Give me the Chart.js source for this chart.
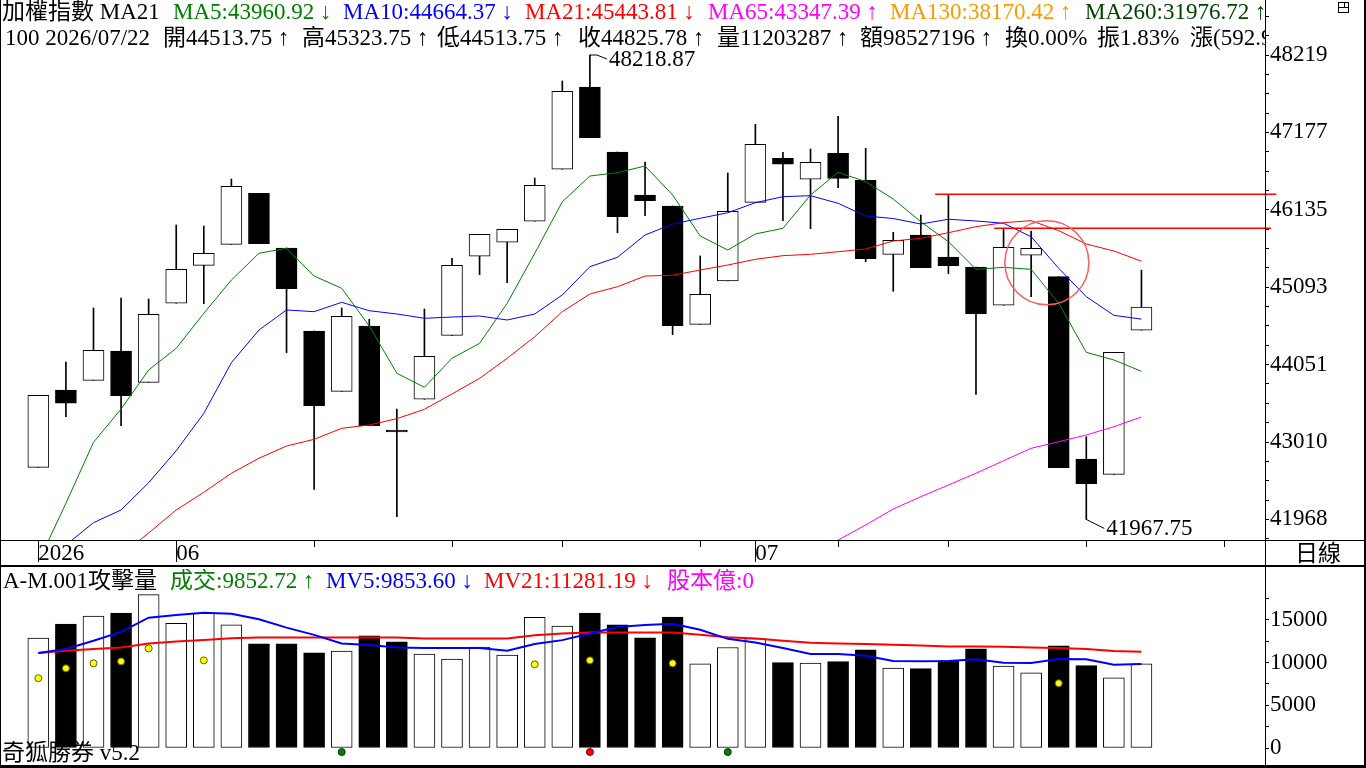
<!DOCTYPE html>
<html lang="zh-Hant">
<head>
<meta charset="utf-8">
<title>加權指數 日線</title>
<script src="https://cdn.jsdelivr.net/npm/chart.js@4.4.1/dist/chart.umd.min.js"></script>
<style>
  html, body { margin: 0; padding: 0; background: #fff; }
  #board { position: relative; width: 1366px; height: 768px; overflow: hidden;
           font-family: "Liberation Serif", "Noto Sans CJK TC", serif; font-size: 23px; line-height: 23px; color: #000; }
  #board canvas { position: absolute; left: 0; }
  #priceChart { top: 0; }
  #volChart { top: 565px; }
  .clip { position: absolute; left: 0; width: 1265px; overflow: hidden; z-index: 2; }
  .seg { position: absolute; top: 0; white-space: pre; }
  .rule { position: absolute; background: #000; z-index: 3; }
</style>
</head>
<body>
<div id="board">
  <canvas id="priceChart" width="1366" height="565"></canvas>
  <canvas id="volChart" width="1366" height="200"></canvas>

  <div class="clip" style="top:0;height:24px">
    <span class="seg" style="left:2px">加權指數 MA21</span>
    <span class="seg" style="left:173px;color:#008000">MA5:43960.92 ↓</span>
    <span class="seg" style="left:343px;color:#0000ff">MA10:44664.37 ↓</span>
    <span class="seg" style="left:525px;color:#ff0000">MA21:45443.81 ↓</span>
    <span class="seg" style="left:708px;color:#ff00ff">MA65:43347.39 ↑</span>
    <span class="seg" style="left:890px;color:#ff9900">MA130:38170.42 ↑</span>
    <span class="seg" style="left:1085px;color:#004400">MA260:31976.72 ↑</span>
  </div>
  <div class="clip" style="top:26px;height:24px">
    <span class="seg" style="left:5px">100 2026/07/22</span>
    <span class="seg" style="left:163px">開44513.75 ↑</span>
    <span class="seg" style="left:302px">高45323.75 ↑</span>
    <span class="seg" style="left:437px">低44513.75 ↑</span>
    <span class="seg" style="left:578px">收44825.78 ↑</span>
    <span class="seg" style="left:717px">量11203287 ↑</span>
    <span class="seg" style="left:860px">額98527196 ↑</span>
    <span class="seg" style="left:1005px">換0.00%</span>
    <span class="seg" style="left:1097px">振1.83%</span>
    <span class="seg" style="left:1190px">漲(592.93</span>
  </div>
  <div class="clip" style="top:569px;height:24px">
    <span class="seg" style="left:3px">A-M.001攻擊量</span>
    <span class="seg" style="left:170px;color:#008000">成交:9852.72 ↑</span>
    <span class="seg" style="left:326px;color:#0000ff">MV5:9853.60 ↓</span>
    <span class="seg" style="left:484px;color:#ff0000">MV21:11281.19 ↓</span>
    <span class="seg" style="left:667px;color:#ff00ff">股本億:0</span>
  </div>
  <div class="clip" style="top:741px;height:24px">
    <span class="seg" style="left:2px">奇狐勝券 v5.2</span>
  </div>
  <span class="seg" style="left:1295px;top:542px">日線</span>

  <div style="position:absolute;left:1338px;top:2px;width:9px;height:9px;border:1px solid #000">
    <div style="position:absolute;left:0;top:4px;width:9px;height:1px;background:#000"></div>
    <div style="position:absolute;left:5px;top:0;width:1px;height:4px;background:#000"></div>
  </div>

  <div class="rule" style="left:0;top:0;width:1px;height:768px"></div>
  <div class="rule" style="left:1364px;top:0;width:2px;height:768px"></div>
  <div class="rule" style="left:1265px;top:0;width:1px;height:768px"></div>
  <div class="rule" style="left:0;top:540px;width:1366px;height:1px"></div>
  <div class="rule" style="left:0;top:565px;width:1366px;height:2px"></div>
  <div class="rule" style="left:0;top:765px;width:1366px;height:3px"></div>
</div>

<script>
// daily candles
const openP  = [42669, 43710, 43840, 44235, 43813, 44877, 45388, 45671, 46357, 45621,
                44504, 43692, 44571, 43170, 43585, 44446, 45510, 45698, 45981, 46681,
                47788, 46913, 46335, 46187, 44594, 45177, 46236, 46829, 46546, 46896,
                46532, 45536, 45796, 45500, 45365, 44850, 45523, 45235, 42781, 42575, 44513.75];
const highP  = [43639, 44087, 44814, 44948, 44935, 45931, 45917, 46550, 46357, 45621,
                44504, 44814, 44661, 43454, 44800, 45483, 45806, 45873, 46563, 47869,
                48218.87, 46913, 46779, 46187, 45514, 46631, 47286, 46909, 46954, 47394,
                46963, 45833, 46065, 46344, 45365, 45886, 45850, 45235, 43081, 44217, 45323.75];
const lowP   = [42669, 43351, 43840, 43229, 43813, 44877, 44871, 45671, 45679, 44212,
                42373, 43692, 43229, 42004, 43585, 44446, 45262, 45154, 45981, 46681,
                47106, 45827, 46056, 44454, 44594, 45177, 46236, 45989, 45881, 46433,
                45437, 45038, 45356, 45275, 43652, 44850, 44966, 42664, 41967.75, 42575, 44513.75];
const closeP = [43639, 43531, 44244, 43633, 44729, 45335, 45550, 46452, 45679, 45073,
                43499, 44702, 43229, 43145, 44163, 45388, 45806, 45873, 46465, 47730,
                47106, 46043, 46258, 44575, 44998, 46115, 47017, 46748, 46775, 46559,
                45477, 45725, 45356, 45383, 44737, 45631, 45617, 42664, 42449, 44217, 44825.78];

// moving averages
const ma5  = [41395, 42185, 43006, 43454, 43979, 44271, 44742, 45190, 45550, 45617,
              45244, 45079, 44571, 43935, 43746, 44137, 44338, 44877, 45550, 46244,
              46590, 46635, 46725, 46335, 45783, 45594, 45810, 45886, 46335, 46640,
              46514, 46281, 45975, 45706, 45334, 45361, 45334, 44877, 44217, 44114, 43961];
const ma10 = [41287, 41624, 41924, 42095, 42462, 42893, 43396, 44077, 44517, 44787,
              44764, 44890, 44777, 44733, 44675, 44692, 44706, 44652, 44733, 44989,
              45370, 45496, 45796, 45944, 46021, 46096, 46231, 46312, 46325, 46223,
              46052, 46018, 45944, 46008, 45985, 45954, 45773, 45348, 44966, 44715, 44664];
const ma21 = [40681, 40951, 41219, 41489, 41785, 42095, 42333, 42589, 42791, 42956,
              43046, 43194, 43239, 43324, 43450, 43656, 43867, 44137, 44427, 44764,
              45002, 45100, 45244, 45254, 45325, 45392, 45469, 45518, 45536, 45571,
              45608, 45715, 45752, 45827, 45908, 45962, 45989, 45854, 45675, 45581, 45444];
const ma65 = [null, null, null, null, null, null, null, null, null, null,
              null, null, null, null, null, null, null, null, null, null,
              null, null, null, null, null, null, null, 41340, 41516, 41691,
              41893, 42108, 42274, 42431, 42589, 42758, 42925, 43014, 43104, 43216, 43347];

// volume panel
const volume = [12870, 14530, 15460, 15810, 17980, 14610, 15770, 14420, 12210, 12210,
                11160, 11360, 13140, 12440, 11010, 10430, 11830, 10890, 15310, 14300,
                15810, 14420, 12910, 15350, 9850, 11780, 12830, 10000, 9960, 10120,
                11510, 9380, 9300, 10230, 11630, 9610, 8800, 11980, 9650, 8220, 9853];
const mv5  = [11130, 11595, 12560, 13607, 15270, 15584, 15852, 15735, 15084, 14107,
              13258, 12246, 12060, 11781, 11711, 11711, 11711, 11397, 12177, 12642,
              13409, 14189, 14421, 14572, 13850, 12793, 12363, 11711, 11014, 11014,
              10816, 10200, 10153, 10200, 10386, 10002, 9967, 10432, 10386, 9769, 9854];
const mv21 = [11130, 11397, 11595, 11781, 12246, 12479, 12642, 12874, 12944, 12944,
              12944, 12944, 12944, 12944, 12828, 12828, 12828, 12828, 13223, 13409,
              13526, 13526, 13526, 13526, 13280, 12991, 12828, 12560, 12328, 12246,
              12177, 12095, 12014, 11897, 11897, 11863, 11781, 11711, 11595, 11362, 11281];
const yellowIdx = [0, 1, 2, 3, 4, 6, 18, 20, 23, 37];
const yellowVal = [8180, 9340, 9920, 10150, 11670, 10270, 9800, 10270, 9920, 7590];
const greenIdx = [11, 25];
const redIdx = [20];
const signalLevel = -470;

// marks drawn on the price panel
const resistLevel = [46344, 45886];
const resistFrom = [32.52, 34.66];
const resistTo = [44.89, 44.70];
const circleIdx = 36.57;
const circleLevel = 45423;

// axes
const weekTickIdx = [0, 5, 10, 15, 19, 24, 26, 29, 33, 38, 43];
const monthTickIdx = [0, 5, 26];
const monthTickLabels = ['2026', '06', '07'];
const priceTicks = [41967.75, 43009.6, 44051.45, 45093.3, 46135.15, 47177.0, 48218.87];
const priceTickLabels = ['41968', '43010', '44051', '45093', '46135', '47177', '48219'];
const volTicks = [0, 5000, 10000, 15000];
const volTickLabels = ['0', '5000', '10000', '15000'];

const xMin = -1.39, xMax = 44.48;
const priceMin = 41690.8, priceMax = 48959.3;
const volMin = -1992, volMax = 21445;

Chart.defaults.font.family = '"Liberation Serif", "Noto Sans CJK TC", serif';
Chart.defaults.font.size = 23;
Chart.defaults.color = '#000';
Chart.defaults.plugins.legend.display = false;
Chart.defaults.plugins.tooltip.enabled = false;

const isUp = closeP.map((c, i) => c >= openP[i]);
const pts = arr => arr.map((v, i) => ({x: i, y: v}));

function tickSet(major, parts, scale) {
    const step = (major[1] - major[0]) / parts;
    const kLo = Math.ceil((scale.min - major[0]) / step);
    const kHi = Math.floor((scale.max - major[0]) / step);
    const out = [];
    for (let k = kLo; k <= kHi; k++) out.push({value: major[0] + k * step});
    return out;
}
function labelFor(major, labels) {
    return v => {
        const j = major.findIndex(t => Math.abs(t - v) < 1);
        return j >= 0 ? labels[j] : '';
    };
}
// keep the plot area flush with the panel edges
function noPad(s) {
    s.paddingTop = 0;
    s.paddingBottom = 0;
    s.paddingLeft = 0;
    s.paddingRight = 0;
}

const extremeLabels = {
    id: 'extremeLabels',
    afterDatasetsDraw(chart) {
        const {ctx} = chart;
        const x = chart.scales.x, y = chart.scales.y;
        const hi = highP.indexOf(Math.max(...highP));
        const lo = lowP.indexOf(Math.min(...lowP));
        ctx.save();
        ctx.strokeStyle = '#000';
        ctx.lineWidth = 1;
        ctx.fillStyle = '#000';
        ctx.font = '23px "Liberation Serif"';
        ctx.textAlign = 'left';
        ctx.textBaseline = 'middle';

        let px = x.getPixelForValue(hi), py = y.getPixelForValue(highP[hi]);
        ctx.beginPath();
        ctx.moveTo(px, py);
        ctx.lineTo(px + 7, py);
        ctx.lineTo(px + 17, py + 4);
        ctx.stroke();
        ctx.fillText(highP[hi].toFixed(2), px + 19, py + 5);

        px = x.getPixelForValue(lo);
        py = y.getPixelForValue(lowP[lo]);
        ctx.beginPath();
        ctx.moveTo(px, py);
        ctx.lineTo(px + 18, py + 9);
        ctx.stroke();
        ctx.fillText(lowP[lo].toFixed(2), px + 20, py + 10);
        ctx.restore();
    }
};

const priceDatasets = [
    {
        type: 'line', data: [{x: circleIdx, y: circleLevel}], showLine: false,
        pointRadius: 42, pointBorderWidth: 1.5, pointBorderColor: '#ff5a5a',
        pointBackgroundColor: 'rgba(0,0,0,0)', order: 0
    }
];
resistLevel.forEach((lv, j) => {
    priceDatasets.push({
        type: 'line', data: [{x: resistFrom[j], y: lv}, {x: resistTo[j], y: lv}],
        borderColor: '#ff0000', borderWidth: 1.5, pointRadius: 0, clip: false, order: 1
    });
});
[[ma65, '#ff00ff'], [ma21, '#ff0000'], [ma10, '#0000ff'], [ma5, '#008000']].forEach(([arr, col]) => {
    priceDatasets.push({
        type: 'line', data: pts(arr), borderColor: col, borderWidth: 1,
        pointRadius: 0, tension: 0, order: 2
    });
});
priceDatasets.push({
    type: 'bar', data: openP.map((o, i) => ({x: i, y: [o, closeP[i]]})),
    backgroundColor: isUp.map(u => u ? '#ffffff' : '#000000'),
    borderColor: '#000', borderWidth: 1, borderSkipped: false,
    grouped: false, barThickness: 21, maxBarThickness: 21, order: 3
});
priceDatasets.push({
    type: 'bar', data: lowP.map((l, i) => ({x: i, y: [l, highP[i]]})),
    backgroundColor: '#000', borderWidth: 0,
    grouped: false, barThickness: 1, maxBarThickness: 1, order: 4
});

new Chart(document.getElementById('priceChart'), {
    type: 'bar',
    data: {datasets: priceDatasets},
    options: {
        responsive: false,
        devicePixelRatio: 1,
        animation: false,
        events: [],
        layout: {padding: 0, autoPadding: false},
        scales: {
            x: {
                type: 'linear', axis: 'x', position: 'bottom', weight: 1,
                min: xMin, max: xMax, offset: false,
                grid: {drawOnChartArea: false, offset: false, tickLength: 7, color: '#000'},
                border: {display: false},
                ticks: {
                    autoSkip: false, maxRotation: 0, align: 'start', padding: -7,
                    callback: labelFor(monthTickIdx, monthTickLabels)
                },
                afterBuildTicks: s => { s.ticks = weekTickIdx.map(v => ({value: v})); },
                afterFit: s => { s.height = 25; noPad(s); }
            },
            x2: {
                type: 'linear', axis: 'x', position: 'bottom', weight: 0,
                min: xMin, max: xMax, offset: false,
                grid: {drawOnChartArea: false, offset: false, tickLength: 22, color: '#000'},
                border: {display: false},
                ticks: {display: false},
                afterBuildTicks: s => { s.ticks = monthTickIdx.map(v => ({value: v})); },
                afterFit: s => { s.height = 0; noPad(s); }
            },
            y: {
                position: 'right', min: priceMin, max: priceMax, beginAtZero: false,
                grid: {drawOnChartArea: false, tickLength: 4, color: '#000'},
                border: {display: false},
                ticks: {autoSkip: false, padding: 1, callback: labelFor(priceTicks, priceTickLabels)},
                afterBuildTicks: s => { s.ticks = tickSet(priceTicks, 4, s); },
                afterFit: s => { s.width = 101; noPad(s); }
            }
        }
    },
    plugins: [extremeLabels]
});

const dotSet = (ids, vals, fill, edge) => ({
    type: 'line', data: ids.map((i, j) => ({x: i, y: vals[j]})), showLine: false,
    pointRadius: 3.5, pointBackgroundColor: fill, pointBorderColor: edge,
    pointBorderWidth: 1, order: 0
});

new Chart(document.getElementById('volChart'), {
    type: 'bar',
    data: {
        datasets: [
            dotSet(yellowIdx, yellowVal, '#ffff00', '#6b5d00'),
            dotSet(greenIdx, greenIdx.map(() => signalLevel), '#008000', '#003300'),
            dotSet(redIdx, redIdx.map(() => signalLevel), '#ff0000', '#700000'),
            {type: 'line', data: pts(mv5), borderColor: '#0000ff', borderWidth: 2, pointRadius: 0, order: 1},
            {type: 'line', data: pts(mv21), borderColor: '#ff0000', borderWidth: 2, pointRadius: 0, order: 1},
            {
                type: 'bar', data: pts(volume),
                backgroundColor: isUp.map(u => u ? '#ffffff' : '#000000'),
                borderColor: '#000', borderWidth: 1, borderSkipped: false,
                grouped: false, barThickness: 21, maxBarThickness: 21, order: 2
            }
        ]
    },
    options: {
        responsive: false,
        devicePixelRatio: 1,
        animation: false,
        events: [],
        layout: {padding: 0, autoPadding: false},
        scales: {
            x: {type: 'linear', min: xMin, max: xMax, offset: false, display: false},
            y: {
                position: 'right', min: volMin, max: volMax, beginAtZero: false,
                grid: {drawOnChartArea: false, tickLength: 4, color: '#000'},
                border: {display: false},
                ticks: {autoSkip: false, padding: 1, callback: labelFor(volTicks, volTickLabels)},
                afterBuildTicks: s => {
                    s.ticks = tickSet(volTicks, 2, s).filter(t => t.value >= 0 && t.value <= 17500);
                },
                afterFit: s => { s.width = 101; noPad(s); }
            }
        }
    }
});
</script>
</body>
</html>
